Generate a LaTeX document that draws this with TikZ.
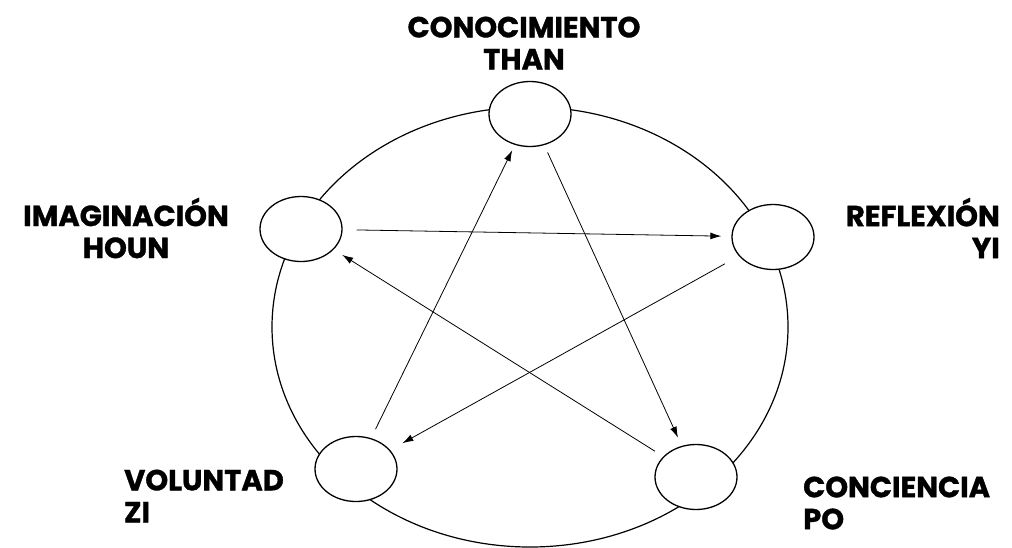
\documentclass[tikz,border=0pt]{standalone}
\usepackage{fontspec}
\setmainfont{Poppins}[BoldFont={* Bold},BoldFeatures={FakeBold=1.2}]
\usetikzlibrary{shapes.geometric,arrows.meta}
\begin{document}
\begin{tikzpicture}[x=1pt,y=-1pt,
  nodeell/.style={ellipse,draw,fill=white,line width=1.3pt,minimum width=82pt,minimum height=65pt,inner sep=0pt},
  lbl/.style={font=\bfseries\fontsize{29}{32}\selectfont,inner sep=0pt},
  arr/.style={line width=0.8pt,-{Latex[length=11pt,width=7pt]}}]
\useasboundingbox (0,0) rectangle (1012,547);
\draw[line width=1.2pt] (530,327) ellipse [x radius=258pt,y radius=220pt];
\node[nodeell] (T) at (530,114) {};
\node[nodeell] (I) at (301,229) {};
\node[nodeell] (R) at (773,237) {};
\node[nodeell] (V) at (356,469) {};
\node[nodeell] (C) at (696,477) {};
\draw[arr,shorten <=14pt,shorten >=10pt] (I) -- (R);
\draw[arr,shorten <=8pt,shorten >=9pt] (T) -- (C);
\draw[arr,shorten <=16pt,shorten >=14pt] (R) -- (V);
\draw[arr,shorten <=10pt,shorten >=6pt] (V) -- (T);
\draw[arr,shorten <=10pt,shorten >=10pt] (C) -- (I);
\node[lbl,align=center] (tT) at (524,43) {CONOCIMIENTO\\THAN};
\node[lbl,align=center] (tI) at (126,228) {IMAGINACIÓN\\HOUN};
\node[lbl,align=right,anchor=east] (tR) at (1000,228) {REFLEXIÓN\\YI};
\node[lbl,align=left,anchor=west] (tV) at (124,496) {VOLUNTAD\\ZI};
\node[lbl,align=left,anchor=west] (tC) at (803,503) {CONCIENCIA\\PO};
\end{tikzpicture}
\end{document}
